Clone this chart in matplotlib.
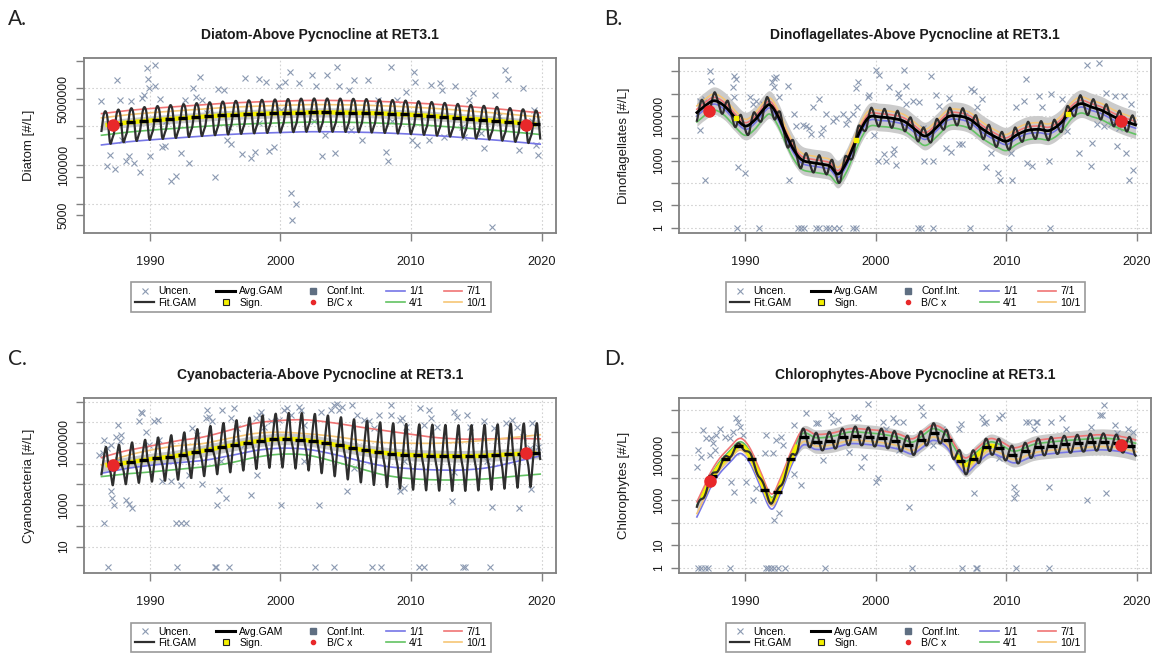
import numpy as np
import matplotlib
matplotlib.use("Agg")
import matplotlib.pyplot as plt
from matplotlib.lines import Line2D

plt.rcParams['font.family'] = ['Liberation Sans', 'DejaVu Sans']

W, H = 1153, 656
T0, T1 = 1986.3, 2019.9
XLIM = (1984.93, 2021.11)

# ---------------- Diatom ----------------
A_KNOT_YEARS = [1986.3, 1988, 1990, 1992, 1994, 1996, 1998, 2000, 2002, 2004,
                2006, 2008, 2010, 2012, 2014, 2016, 2018, 2019.9]
A_AVG_LOG = [6.02, 6.09, 6.15, 6.2, 6.25, 6.29, 6.32, 6.34, 6.36, 6.36,
             6.35, 6.33, 6.3, 6.26, 6.21, 6.16, 6.1, 6.04]
A_PROFILE = [-0.5, -0.42, -0.33, -0.25, -0.05, 0.18, 0.31, 0.36, 0.32, 0.2, -0.1, -0.4]
A_AMP = 1.0
A_DATE_OFFSETS = [-0.5, -0.25, 0.31, 0.2]   # 1/1, 4/1, 7/1, 10/1
A_CI_HALF = 0.12
A_SIGN = [(1986.6, 2019.6)]
A_BC = [(1987.2, 1.1e6), (2018.8, 1.1e6)]
A_OBS = [
    (1986.24, 4.4e6), (1986.75, 9.3e4), (1987.37, 8.1e4), (1987.45, 1.6e7), (1986.97, 1.8e5),
    (1987.74, 4.8e6), (1988.16, 1.3e5), (1988.58, 4.4e6), (1988.44, 1.7e5), (1988.78, 1.1e5),
    (1989.24, 6.7e4), (1989.43, 5.3e6), (1989.58, 6.4e6), (1989.8, 3.2e7), (1989.86, 1.7e7),
    (1989.92, 9.6e6), (1990.0, 1.7e5), (1990.37, 3.9e7), (1990.42, 1.1e7), (1990.76, 5.0e6),
    (1990.93, 3.0e5), (1991.13, 3.1e5), (1991.61, 3.9e4), (1991.98, 5.2e4), (1992.41, 2.0e5),
    (1992.69, 4.8e6), (1992.97, 1.1e5), (1993.31, 9.6e6), (1993.54, 5.9e6), (1993.82, 1.9e7),
    (1993.96, 4.8e6), (1995.01, 5.0e4), (1995.24, 9.1e6), (1995.66, 8.7e6), (1995.94, 4.5e5),
    (1996.23, 3.6e5), (1997.08, 1.9e5), (1997.27, 1.8e7), (1997.73, 1.5e5), (1998.07, 2.2e5),
    (1998.35, 1.7e7), (1998.92, 1.4e7), (1999.14, 2.3e5), (1999.48, 3.0e5), (1999.91, 1.1e7),
    (2000.33, 1.4e7), (2000.84, 1.9e4), (2000.9, 3.8e3), (2001.18, 1.0e4), (2000.76, 2.6e7),
    (2001.46, 1.3e7), (2002.45, 2.1e7), (2002.74, 1.1e7), (2003.22, 1.7e5), (2003.59, 2.1e7),
    (2004.15, 2.0e5), (2004.35, 3.5e7), (2004.52, 1.1e7), (2005.28, 8.7e6), (2005.65, 1.6e7),
    (2006.27, 4.5e5), (2006.73, 1.6e7), (2007.46, 4.8e6), (2008.11, 2.2e5), (2008.26, 1.3e5),
    (2008.48, 3.5e7), (2008.96, 4.8e6), (2009.61, 7.9e6), (2010.1, 4.5e5), (2010.24, 2.6e7),
    (2010.29, 1.4e7), (2010.46, 3.3e5), (2011.37, 4.5e5), (2011.51, 1.2e7), (2012.22, 1.3e7),
    (2012.36, 8.7e6), (2013.35, 1.1e7), (2014.06, 5.2e5), (2014.43, 4.8e6), (2014.77, 7.1e6),
    (2015.62, 2.7e5), (2016.18, 2.5e3), (2016.46, 6.5e6), (2017.17, 2.9e7), (2017.46, 1.7e7),
    (2018.31, 2.5e5), (2018.59, 1.0e7), (2019.44, 2.6e6), (2019.58, 3.3e5), (2019.72, 1.8e5),
    (1991.27, 1.4e6), (1994.39, 2.2e6), (1996.09, 9.8e5), (1998.35, 1.2e6), (2000.05, 2.6e6),
    (2002.6, 1.4e6), (2005.43, 8.1e5), (2008.54, 1.4e6), (2011.09, 1.8e6), (2013.92, 9.8e5),
    (2016.75, 1.8e6), (2019.3, 1.4e6), (1987.88, 4.5e5), (2015.33, 6.6e5), (2012.5, 5.4e5),
    (2003.44, 6.0e5),
]

# ---------------- Dinoflagellates ----------------
B_KNOT_YEARS = [1986.3, 1986.8, 1987.6, 1988.4, 1989.2, 1990.0, 1990.7, 1991.4, 1991.9, 1992.5,
                1993.1, 1993.7, 1994.3, 1995.0, 1995.8, 1996.5, 1997.1, 1997.7, 1998.3, 1998.9,
                1999.5, 2000.3, 2001.2, 2002.2, 2003.1, 2003.8, 2004.6, 2005.5, 2006.3, 2007.2,
                2008.2, 2009.2, 2010.0, 2010.8, 2011.6, 2012.5, 2013.3, 2014.2, 2015.0, 2015.7,
                2016.5, 2017.3, 2018.1, 2018.9, 2019.9]
B_AVG_LOG = [5.15, 5.4, 5.68, 5.45, 4.95, 4.55, 4.8, 5.3, 5.5, 5.0,
             4.2, 3.5, 3.05, 2.92, 2.85, 2.75, 2.4, 2.85, 3.65, 4.45,
             4.95, 4.95, 4.9, 4.75, 4.35, 4.1, 4.45, 4.95, 5.0, 4.85,
             4.4, 4.05, 3.87, 4.15, 4.35, 4.4, 4.35, 4.7, 5.3, 5.55,
             5.4, 5.25, 5.0, 4.8, 4.6]
B_PROFILE = [-0.15, -0.3, -0.4, -0.42, -0.3, -0.05, 0.15, 0.3, 0.38, 0.3, 0.15, 0.0]
B_AMP = 1.0
B_DATE_OFFSETS = [-0.15, -0.42, 0.15, 0.3]
B_CI_HALF = 0.62
B_SIGN_YEARS = [1989.3, 1998.5, 2014.7]
B_BC = [(1987.2, 1.6e5), (2018.8, 5.9e4)]
B_OBS = [
    (1987.32, 1.0e7), (1987.4, 3.5e6), (1986.51, 4.8e5), (1986.89, 5.6e5), (1986.71, 3.4e5),
    (1986.51, 2.3e4), (1986.89, 130), (1989.18, 6.3e6), (1989.31, 4.5e6), (1989.06, 1.9e6),
    (1989.44, 500), (1989.95, 280), (1989.18, 6.7e5), (1990.33, 6.7e5), (1990.59, 3.4e5),
    (1990.84, 4.8e5), (1991.35, 3.4e5), (1992.17, 5.0e6), (1992.37, 5.4e6), (1992.06, 3.2e6),
    (1992.62, 6.7e5), (1992.24, 1.9e6), (1993.26, 2.2e6), (1993.39, 130), (1993.77, 1.2e5),
    (1993.9, 3.5e4), (1994.41, 3.9e4), (1994.66, 3.5e4), (1994.92, 3.0e4), (1995.05, 1.5e4),
    (1995.17, 2.6e5), (1995.68, 6.0e5), (1995.81, 1.5e4), (1995.94, 2.8e4), (1996.19, 1.2e5),
    (1996.7, 5.9e4), (1996.96, 8.3e4), (1997.47, 1.2e5), (1997.85, 7.1e4), (1997.72, 4.2e4),
    (1998.23, 1.2e5), (1998.49, 1.8e6), (1998.61, 3.2e6), (1998.56, 2.4e5), (1999.38, 6.7e5),
    (1999.51, 8.9e5), (1999.89, 1.4e4), (2000.02, 1.1e7), (2000.27, 7.1e6), (2000.14, 1.0e3),
    (2000.65, 1.9e3), (2000.78, 940), (2001.03, 1.9e6), (2001.42, 3.2e3), (2001.29, 1.9e3),
    (2001.54, 660), (2001.67, 1.1e6), (2001.8, 6.7e5), (2002.18, 1.1e7), (2002.31, 2.1e6),
    (2002.31, 3.4e5), (2002.82, 4.8e5), (2003.33, 4.0e5), (2003.58, 3.0e4), (2003.71, 940),
    (2004.35, 940), (2004.22, 6.3e6), (2004.6, 8.9e5), (2004.86, 2.8e5), (2005.37, 3.7e3),
    (2005.62, 6.3e5), (2005.75, 2.5e3), (2006.39, 5.3e3), (2006.64, 5.3e3), (2006.9, 1.2e5),
    (2007.28, 1.6e6), (2007.53, 1.3e6), (2007.79, 2.4e5), (2008.17, 5.6e5), (2008.43, 500),
    (2008.81, 2.2e3), (2009.39, 280), (2009.5, 130), (2010.46, 130), (2010.34, 2.2e3),
    (2010.72, 2.4e5), (2011.48, 4.5e6), (2011.36, 4.8e5), (2011.61, 790), (2011.99, 560),
    (2012.5, 7.9e5), (2012.76, 2.4e5), (2013.27, 940), (2013.39, 9.5e5), (2014.29, 5.6e5),
    (2014.67, 2.1e4), (2015.56, 2.2e3), (2016.2, 2.0e7), (2016.45, 560), (2016.58, 6.3e3),
    (2017.09, 2.3e7), (2016.96, 4.2e4), (2017.47, 3.5e4), (2017.62, 1.1e6), (2018.04, 4.2e4),
    (2018.46, 4.5e3), (2019.02, 7.9e5), (2019.16, 2.2e3), (2019.58, 3.4e5), (2019.43, 140),
    (2019.73, 400), (2018.34, 7.9e5), (2018.61, 3.0e4),
    (1989.36, 1), (1991.04, 1), (1994.03, 1), (1994.28, 1), (1994.54, 1), (1995.43, 1),
    (1995.68, 1), (1996.19, 1), (1996.45, 1), (1996.83, 1), (1997.21, 1), (1998.23, 1),
    (1998.49, 1), (2003.2, 1), (2003.46, 1), (2004.35, 1), (2007.2, 1), (2010.21, 1),
    (2013.32, 1),
]

# ---------------- Cyanobacteria ----------------
C_KNOT_YEARS = [1986.3, 1988, 1990, 1992, 1994, 1996, 1998, 2000, 2002, 2004,
                2006, 2008, 2010, 2012, 2014, 2016, 2018, 2019.9]
C_AVG_LOG = [4.9, 5.03, 5.22, 5.38, 5.62, 5.86, 6.07, 6.2, 6.14, 5.94,
             5.7, 5.52, 5.42, 5.38, 5.36, 5.4, 5.47, 5.52]
C_JAN_LOG = [4.54, 4.75, 4.92, 5.04, 5.15, 5.37, 5.63, 5.75, 5.7, 5.47,
             5.15, 4.88, 4.76, 4.7, 4.7, 4.82, 5.1, 5.38]
C_APR_LOG = [4.38, 4.5, 4.6, 4.72, 4.84, 5.02, 5.3, 5.46, 5.42, 5.13,
             4.78, 4.45, 4.28, 4.22, 4.22, 4.28, 4.4, 4.5]
C_JUL_LOG = [5.3, 5.6, 5.85, 6.1, 6.28, 6.6, 6.95, 7.09, 7.12, 6.98,
             6.78, 6.6, 6.42, 6.26, 6.19, 6.2, 6.22, 6.2]
C_OCT_LOG = [4.94, 5.35, 5.65, 5.86, 5.97, 6.22, 6.46, 6.52, 6.45, 6.33,
             6.15, 6.02, 5.99, 5.99, 6.05, 6.15, 6.28, 6.4]
C_PROFILE = [-0.45, -0.85, -1.15, -0.75, -0.3, 0.15, 0.55, 0.92, 1.0, 0.45, 0.0, -0.25]
C_AMP_YEARS = [1986.3, 1990, 1995, 2000, 2005, 2010, 2015, 2019.9]
C_AMP = [0.85, 0.95, 1.1, 1.2, 1.35, 1.45, 1.45, 1.4]
C_CI_HALF = 0.28
C_SIGN = [(1986.6, 2019.6)]
C_BC = [(1987.2, 8.7e4), (2018.8, 3.2e5)]
C_OBS = [
    (1986.12, 2.7e5), (1986.38, 3.2e5), (1986.51, 1.4e6), (1986.71, 5.6e5), (1987.02, 8.1e5),
    (1987.4, 2.0e6), (1987.53, 7.4e6), (1987.78, 2.5e6), (1987.73, 1.2e6), (1987.53, 1.5e5),
    (1987.02, 4.6e3), (1987.14, 2.1e3), (1987.27, 1.0e3), (1986.51, 130), (1988.16, 1.8e3),
    (1988.42, 1.2e3), (1988.67, 760), (1989.31, 3.3e7), (1989.44, 2.8e7), (1989.18, 1.1e7),
    (1989.69, 3.5e6), (1990.33, 1.1e7), (1990.59, 1.3e7), (1989.95, 8.1e5), (1990.71, 1.4e6),
    (1990.97, 1.4e4), (1991.61, 1.4e4), (1992.37, 9.5e3), (1991.99, 130), (1992.37, 130),
    (1992.75, 130), (1993.01, 2.9e4), (1993.26, 5.1e6), (1993.65, 2.5e6), (1994.03, 1.1e4),
    (1994.41, 4.0e7), (1994.54, 1.9e7), (1994.79, 1.1e7), (1994.28, 1.6e7), (1995.18, 1.0e3),
    (1995.3, 5.5e3), (1995.81, 2.1e3), (1995.56, 4.0e7), (1996.45, 4.8e7), (1996.2, 1.6e7),
    (1996.71, 5.1e6), (1997.22, 8.1e5), (1997.73, 3.1e3), (1998.11, 1.6e7), (1998.37, 2.3e7),
    (1998.49, 3.3e7), (1998.75, 6.2e6), (1999.26, 1.1e7), (1999.9, 1.3e7), (2000.28, 4.0e7),
    (2000.53, 4.8e7), (2000.02, 1.0e3), (2000.79, 2.3e7), (2001.43, 5.8e7), (2001.55, 4.0e7),
    (2001.81, 7.4e6), (2002.96, 1.0e3), (2003.08, 3.3e7), (2003.85, 4.0e7), (2004.1, 6.9e7),
    (2004.36, 7.4e7), (2004.49, 4.0e7), (2004.74, 5.8e7), (2005.12, 4.6e3), (2005.51, 6.9e7),
    (2005.89, 2.3e7), (2006.4, 1.3e7), (2006.78, 1.1e7), (2007.16, 5.1e6), (2007.55, 2.3e7),
    (2008.44, 2.3e7), (2008.49, 6.9e7), (2009.2, 1.3e7), (2009.33, 1.6e7), (2009.59, 6.2e6),
    (2010.73, 4.8e7), (2010.99, 7.4e6), (2011.37, 4.0e7), (2011.5, 1.6e7), (2012.01, 6.2e6),
    (2013.16, 1.5e3), (2013.28, 3.3e7), (2013.54, 1.9e7), (2014.3, 2.3e7), (2014.56, 6.2e6),
    (2015.58, 1.1e7), (2016.22, 850), (2016.35, 5.1e6), (2009.2, 4.6e3), (2009.46, 6.6e3),
    (1991.61, 2.7e5), (1995.43, 1.3e5), (1998.24, 2.9e4), (2001.81, 1.3e5), (2005.63, 6.1e4),
    (2009.46, 1.3e5), (2013.28, 4.2e4), (2015.83, 1.3e5), (2017.74, 1.3e7), (2018.16, 6.2e6),
    (2018.3, 710), (2018.59, 2.0e6), (2019.15, 5.6e5), (2019.3, 9.1e6), (2019.21, 5.9e3),
    (2019.72, 6.8e5), (2017.31, 9.1e6),
    (1986.81, 1), (1992.07, 1), (1994.97, 1), (1995.08, 1), (1996.07, 1), (2002.65, 1),
    (2004.1, 1), (2007.04, 1), (2007.67, 1), (2010.61, 1), (2010.99, 1), (2013.99, 1),
    (2014.13, 1), (2016.04, 1),
]

# ---------------- Chlorophytes ----------------
D_KNOT_YEARS = [1986.3, 1986.8, 1987.3, 1988.0, 1988.8, 1989.6, 1990.3, 1991.1, 1992.0, 1992.7,
                1993.6, 1994.4, 1995.4, 1996.7, 1998.0, 1999.3, 2000.5, 2001.8, 2002.8, 2003.6,
                2004.4, 2005.4, 2006.3, 2006.9, 2007.7, 2008.7, 2009.5, 2010.6, 2012.1, 2013.6,
                2015.2, 2017.2, 2018.8, 2019.9]
D_AVG_LOG = [2.6, 3.2, 3.85, 4.5, 5.0, 5.42, 5.05, 4.05, 2.95, 3.65,
             4.95, 5.78, 5.6, 5.66, 5.85, 5.82, 5.75, 5.6, 5.4, 5.7,
             6.0, 5.72, 4.9, 4.55, 4.95, 5.4, 5.3, 5.0, 5.3, 5.42,
             5.5, 5.58, 5.5, 5.35]
D_PROFILE = [-0.9, -0.5, 0.0, 0.45, 0.8, 1.0, 0.9, 0.55, 0.05, -0.5, -0.9, -1.0]
D_AMP_YEARS = [1986.3, 1993.3, 1994.3, 2019.9]
D_AMP = [0.15, 0.15, 0.38, 0.38]
D_DATE_OFFSETS = [-0.35, 0.17, 0.32, -0.2]
D_CI_YEARS = [1986.3, 1993.3, 1994.3, 2005.0, 2019.9]
D_CI_HALF = [0.22, 0.22, 0.5, 0.5, 0.6]
D_SIGN = [(1986.7, 1994.0), (2006.2, 2009.3)]
D_BC = [(1987.3, 7.0e3), (2018.8, 2.8e5)]
D_OBS = [
    (1986.38, 1.7e5), (1986.3, 3.0e4), (1986.64, 8.5e4), (1986.76, 1.3e6), (1987.02, 5.5e5),
    (1987.4, 5.5e5), (1987.53, 3.3e5), (1987.27, 1.0e5), (1987.66, 1.7e5), (1987.78, 7.8e5),
    (1988.04, 1.5e6), (1988.42, 6.5e5), (1988.8, 5.5e5), (1989.06, 1.1e6), (1989.31, 4.3e6),
    (1989.44, 3.0e6), (1989.57, 1.8e6), (1989.82, 7.8e5), (1988.93, 6.1e3), (1989.18, 2.4e3),
    (1990.08, 6.1e3), (1990.59, 1.0e3), (1990.84, 3.3e3), (1991.61, 7.8e5), (1991.48, 1.2e5),
    (1992.12, 1.2e5), (1992.37, 4.6e5), (1992.62, 260), (1992.17, 130), (1992.75, 6.5e5),
    (1992.88, 2.8e5), (1993.77, 2.1e6), (1993.77, 1.5e4), (1994.28, 4.7e3), (1994.66, 7.1e6),
    (1995.43, 2.6e6), (1995.56, 2.6e6), (1995.94, 6.0e4), (1996.58, 6.0e6), (1996.7, 3.0e6),
    (1997.08, 3.6e6), (1998.36, 5.0e6), (1998.61, 4.3e6), (1998.87, 3.0e4), (1999.38, 1.8e7),
    (2000.02, 6.1e3), (2000.14, 9.2e3), (2000.52, 3.0e6), (2000.78, 1.5e6), (2001.29, 4.3e6),
    (2001.54, 3.0e6), (2002.05, 3.0e6), (2002.56, 510), (2003.46, 1.4e7), (2003.58, 6.0e6),
    (2004.22, 3.0e4), (2005.11, 1.5e6), (2006.39, 1.5e6), (2006.51, 2.3e6), (2007.53, 2.0e3),
    (2008.17, 5.0e6), (2008.3, 2.6e6), (2008.43, 3.0e6), (2009.44, 4.3e6), (2009.7, 6.0e6),
    (2010.59, 3.9e3), (2010.59, 1.2e3), (2010.72, 2.0e3), (2011.48, 3.0e6), (2011.74, 3.0e6),
    (2012.12, 1.5e6), (2012.25, 3.0e6), (2012.38, 3.0e6), (2013.27, 3.9e3), (2013.39, 3.0e6),
    (2014.29, 4.3e6), (2014.54, 1.5e6), (2016.45, 1.8e6), (2016.2, 1.0e3), (2017.35, 6.0e6),
    (2017.48, 1.7e7), (2017.2, 6.0e6), (2017.6, 2.0e3), (2018.3, 2.1e6), (2018.45, 9.2e5),
    (2019.28, 1.5e6), (2019.7, 1.0e6), (1995.43, 3.9e5), (1997.98, 1.4e5), (2001.8, 1.7e5),
    (2004.35, 2.8e5), (2009.44, 7.1e4), (2012.0, 1.0e5), (2015.8, 2.0e5), (1999.12, 8.5e4),
    (1986.38, 1), (1986.64, 1), (1986.89, 1), (1987.15, 1), (1988.8, 1), (1991.61, 1),
    (1991.73, 1), (1991.99, 1), (1992.24, 1), (1992.5, 1), (1993.01, 1), (1996.14, 1),
    (2002.74, 1), (2006.64, 1), (2007.66, 1), (2007.79, 1), (2010.72, 1), (2013.27, 1),
]

OBS_COLOR = '#8c9ab2'
FIT_COLOR = '#2e2e2e'
CI_COLOR = '#cbcbcb'
YELLOW = '#f4f000'
RED_DOT = '#e8282a'
DATE_COLORS = ['#7676e6', '#62c262', '#f07474', '#f6c676']   # 1/1, 4/1, 7/1, 10/1
DATE_LABELS = ['1/1', '4/1', '7/1', '10/1']
GRID_COLOR = '#d2d2d2'
FRAME_COLOR = '#808080'
TEXT_COLOR = '#1a1a1a'


def hermite(xk, yk, x):
    """Smooth cubic curve through the knots (finite-difference tangents)."""
    xk = np.asarray(xk, float)
    yk = np.asarray(yk, float)
    n = len(xk)
    m = np.empty(n)
    m[1:-1] = (yk[2:] - yk[:-2]) / (xk[2:] - xk[:-2])
    m[0] = (yk[1] - yk[0]) / (xk[1] - xk[0])
    m[-1] = (yk[-1] - yk[-2]) / (xk[-1] - xk[-2])
    i = np.clip(np.searchsorted(xk, x) - 1, 0, n - 2)
    h = xk[i + 1] - xk[i]
    t = (x - xk[i]) / h
    t2, t3 = t * t, t * t * t
    return ((2 * t3 - 3 * t2 + 1) * yk[i] + (t3 - 2 * t2 + t) * h * m[i]
            + (-2 * t3 + 3 * t2) * yk[i + 1] + (t3 - t2) * h * m[i + 1])


def seasonal(profile, x):
    p = list(profile)
    xk = np.arange(-1, 14) / 12.0
    yk = [p[-1]] + p + [p[0], p[1], p[2]]
    return hermite(xk, yk[:len(xk)], np.mod(x, 1.0))


def knots_or_const(years, vals, x):
    if np.isscalar(vals):
        return np.full_like(x, float(vals))
    return hermite(years, vals, x)


def to_px(x0, y0, x1, y1):
    return [x0 / W, 1 - y1 / H, (x1 - x0) / W, (y1 - y0) / H]


def draw_panel(ax, ylim, yticks, ylabels, years, avg_log, profile, amp_years, amp,
               date_logs, ci_years, ci_half, obs, bc, sign=None, sign_years=None,
               annual_avg=True):
    t = np.linspace(T0, T1, 4000)
    avg = hermite(years, avg_log, t)
    fit = avg + knots_or_const(amp_years, amp, t) * seasonal(profile, t)
    half = knots_or_const(ci_years, ci_half, t)

    ax.set_yscale('log')
    ax.set_xlim(*XLIM)
    ax.set_ylim(*ylim)

    # dotted grid at decades and decade years
    for yr in (1990, 2000, 2010, 2020):
        ax.axvline(yr, color=GRID_COLOR, lw=0.8, ls=(0, (1.5, 2)), zorder=0)
    lo, hi = np.log10(ylim)
    for d in range(int(np.ceil(lo)), int(np.floor(hi)) + 1):
        if 10.0 ** d in yticks:
            ax.axhline(10.0 ** d, color=GRID_COLOR, lw=0.8, ls=(0, (1.5, 2)), zorder=0)

    ax.fill_between(t, 10 ** (avg - half), 10 ** (avg + half), color=CI_COLOR, lw=0, zorder=1)

    oy = [o[0] for o in obs]
    ov = [o[1] for o in obs]
    ax.plot(oy, ov, ls='none', marker='x', ms=4.2, mew=0.8, color=OBS_COLOR, zorder=2)

    for vals, col in zip(date_logs, DATE_COLORS):
        if np.isscalar(vals):
            line = avg + vals
        else:
            line = hermite(years, vals, t)
        ax.plot(t, 10 ** line, color=col, lw=1.2, zorder=3)

    if sign:
        for s0, s1 in sign:
            m = (t >= s0) & (t <= s1)
            ax.plot(t[m], 10 ** avg[m], color=YELLOW, lw=3.2, solid_capstyle='butt', zorder=4)

    ax.plot(t, 10 ** fit, color=FIT_COLOR, lw=1.6, zorder=5)

    if annual_avg:
        xs, ys = [], []
        for yr in range(1987, 2020):
            v = 10 ** hermite(years, avg_log, np.array([yr + 0.5]))[0]
            xs += [yr + 0.15, yr + 0.85, np.nan]
            ys += [v, v, np.nan]
        ax.plot(xs, ys, color='black', lw=2.4, solid_capstyle='butt', zorder=6)
    else:
        ax.plot(t, 10 ** avg, color='black', lw=2.0, zorder=6)
    if sign_years:
        sv = 10 ** hermite(years, avg_log, np.asarray(sign_years, float))
        ax.plot(sign_years, sv, ls='none', marker='s', ms=3, mfc=YELLOW, mec=YELLOW, zorder=7)

    ax.plot([b[0] for b in bc], [b[1] for b in bc], ls='none', marker='o', ms=8,
            color=RED_DOT, mec=RED_DOT, zorder=8)

    ax.set_xticks([1990, 2000, 2010, 2020])
    ax.set_yticks(yticks)
    ax.set_yticklabels([ylabels.get(v, '') for v in yticks])
    ax.minorticks_off()
    ax.tick_params(axis='x', length=6, width=1, color=FRAME_COLOR, pad=10, labelsize=9.2,
                   labelcolor=TEXT_COLOR)
    ax.tick_params(axis='y', length=6, width=1, color=FRAME_COLOR, pad=4, labelsize=8.8,
                   labelcolor=TEXT_COLOR, labelrotation=90)
    for lab in ax.get_yticklabels():
        lab.set_va('center')
    for sp in ax.spines.values():
        sp.set_color(FRAME_COLOR)
        sp.set_linewidth(1.3)


fig = plt.figure(figsize=(W / 100, H / 100), dpi=100)

panels = [
    dict(box=(83.6, 58.3, 556, 233.3), letter='A.', letter_xy=(8, 19),
         title='Diatom-Above Pycnocline at RET3.1', ylabel='Diatom [#/L]',
         legend=(131, 279, 491, 315)),
    dict(box=(679, 58.3, 1151.4, 233.3), letter='B.', letter_xy=(604, 19),
         title='Dinoflagellates-Above Pycnocline at RET3.1', ylabel='Dinoflagellates [#/L]',
         legend=(726, 279, 1085, 315)),
    dict(box=(83.6, 398.3, 556, 573.3), letter='C.', letter_xy=(8, 359),
         title='Cyanobacteria-Above Pycnocline at RET3.1', ylabel='Cyanobacteria [#/L]',
         legend=(131, 620, 491, 655)),
    dict(box=(679, 398.3, 1151.4, 573.3), letter='D.', letter_xy=(604, 359),
         title='Chlorophytes-Above Pycnocline at RET3.1', ylabel='Chlorophytes [#/L]',
         legend=(726, 620, 1085, 655)),
]

axes = [fig.add_axes(to_px(*p['box'])) for p in panels]

decades_b = [1, 10, 100, 1e3, 1e4, 1e5, 1e6, 1e7]
draw_panel(axes[0], (1.72e3, 5.75e7), [5e3, 1e4, 5e4, 1e5, 5e5, 1e6, 5e6, 1e7, 5e7],
           {5e3: '5000', 1e5: '100000', 5e6: '5000000'},
           A_KNOT_YEARS, A_AVG_LOG, A_PROFILE, None, A_AMP, A_DATE_OFFSETS,
           None, A_CI_HALF, A_OBS, A_BC, sign=A_SIGN)
draw_panel(axes[1], (0.56, 3.8e7), decades_b, {1: '1', 10: '10', 1e3: '1000', 1e5: '100000'},
           B_KNOT_YEARS, B_AVG_LOG, B_PROFILE, None, B_AMP, B_DATE_OFFSETS,
           None, B_CI_HALF, B_OBS, B_BC, sign_years=B_SIGN_YEARS, annual_avg=False)
draw_panel(axes[2], (0.51, 1.45e8), [10, 100, 1e3, 1e4, 1e5, 1e6, 1e7, 1e8],
           {10: '10', 1e3: '1000', 1e6: '1000000'},
           C_KNOT_YEARS, C_AVG_LOG, C_PROFILE, C_AMP_YEARS, C_AMP,
           [C_JAN_LOG, C_APR_LOG, C_JUL_LOG, C_OCT_LOG],
           None, C_CI_HALF, C_OBS, C_BC, sign=C_SIGN)
draw_panel(axes[3], (0.56, 3.3e7), decades_b, {1: '1', 10: '10', 1e3: '1000', 1e5: '100000'},
           D_KNOT_YEARS, D_AVG_LOG, D_PROFILE, D_AMP_YEARS, D_AMP, D_DATE_OFFSETS,
           D_CI_YEARS, D_CI_HALF, D_OBS, D_BC, sign=D_SIGN)

handles = [
    Line2D([], [], ls='none', marker='x', ms=4, mew=0.8, color=OBS_COLOR),
    Line2D([], [], color=FIT_COLOR, lw=1.6),
    Line2D([], [], color='black', lw=2.2),
    Line2D([], [], ls='none', marker='s', ms=5, mfc=YELLOW, mec='#222222', mew=0.8),
    Line2D([], [], ls='none', marker='s', ms=5, color='#5f6f82'),
    Line2D([], [], ls='none', marker='o', ms=3, color=RED_DOT),
] + [Line2D([], [], color=c, lw=1.2) for c in DATE_COLORS]
labels = ['Uncen.', 'Fit.GAM', 'Avg.GAM', 'Sign.', 'Conf.Int.', 'B/C x'] + DATE_LABELS

for ax, p in zip(axes, panels):
    x0, y0, x1, y1 = p['box']
    fig.text((x0 + x1) / 2 / W, 1 - (y0 - 23.5) / H, p['title'], ha='center', va='center',
             fontsize=10, fontweight='bold', color=TEXT_COLOR)
    fig.text(p['letter_xy'][0] / W, 1 - p['letter_xy'][1] / H, p['letter'], ha='left',
             va='center', fontsize=15, family=['Lato', 'DejaVu Sans'], color='#222222')
    ax.set_ylabel(p['ylabel'], fontsize=9.5, color=TEXT_COLOR)
    ax.yaxis.set_label_coords(-48.5 / (x1 - x0), 0.5)

    lx0, ly0, lx1, ly1 = p['legend']
    leg = fig.legend(handles, labels, ncol=5, loc='center',
                     bbox_to_anchor=(lx0 / W, 1 - ly1 / H, (lx1 - lx0) / W, (ly1 - ly0) / H),
                     bbox_transform=fig.transFigure, mode='expand', fontsize=7.5,
                     frameon=True, fancybox=False, edgecolor=FRAME_COLOR,
                     handlelength=1.8, handletextpad=0.4, labelspacing=0.1,
                     borderpad=0.4, borderaxespad=0.0, columnspacing=1.0)
    leg.get_frame().set_linewidth(1.2)

fig.savefig('out.png', dpi=100)
